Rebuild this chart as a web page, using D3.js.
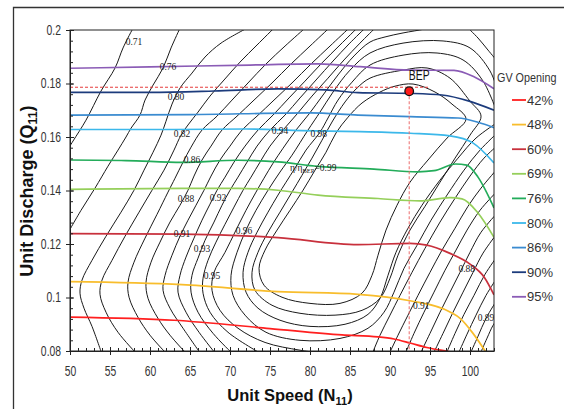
<!DOCTYPE html>
<html>
<head>
<meta charset="utf-8">
<script src="https://cdn.jsdelivr.net/npm/d3@7"></script>
<style>
  html, body { margin: 0; padding: 0; background: #fff; }
  svg { display: block; }
</style>
</head>
<body>
<svg id="chart" width="564" height="409"></svg>
<script>
// ---------- axis ticks ----------
const xTickValues = [50, 55, 60, 65, 70, 75, 80, 85, 90, 95, 100];
const yTickValues = [0.08, 0.1, 0.12, 0.14, 0.16, 0.18, 0.2];
const yTickLabels = ["0.08", "0.1", "0.12", "0.14", "0.16", "0.18", "0.2"];

// ---------- guide-vane opening lines: [N11, Q11] ----------
const gvOpenings = ["42%", "48%", "60%", "69%", "76%", "80%", "86%", "90%", "95%"];
const gv42 = [[50,.0927],[63,.0915],[75,.0884],[84,.0860],[88.5,.0853],[90.5,.0845],[92.5,.0830],[94.6,.0813],[97.3,.0798],[98,.0794]];
const gv48 = [[50,.1059],[64,.1048],[76,.1022],[86,.1012],[92.5,.0988],[97.5,.0946],[98.8,.0921],[100.4,.0865],[102,.0795]];
const gv60 = [[50,.1239],[64,.1237],[76,.1224],[86,.1198],[92.5,.1202],[94.6,.1196],[97.5,.1165],[100,.1125],[101.8,.1075],[103,.1010]];
const gv69 = [[50,.1404],[64,.1408],[71,.1408],[76,.1401],[81,.1383],[88.5,.1370],[93.7,.1361],[97.5,.1373],[99,.1369],[101,.1316],[103,.1225]];
const gv76 = [[50,.1514],[57,.1512],[64,.1505],[71,.1513],[76,.1507],[81,.1490],[88,.1480],[93.5,.1470],[95.5,.1474],[98.2,.1499],[99.6,.1495],[101,.1450],[103,.1335]];
const gv80 = [[50,.1628],[63,.1628],[72,.1630],[79,.1624],[86.25,.1620],[92.5,.1614],[97.5,.1604],[100.4,.1577],[103,.1503]];
const gv86 = [[50,.1682],[65,.1684],[80,.1690],[86,.1682],[92.5,.1676],[98.5,.1671],[101,.1655],[103,.1635]];
const gv90 = [[50,.1767],[60,.1767],[68,.1772],[76,.1780],[82,.1776],[86,.1766],[92.5,.1763],[96.5,.1757],[100,.1733],[103,.1700]];
const gv95 = [[50,.1857],[60,.1862],[72.5,.1869],[81,.1873],[86.25,.1863],[92.5,.1850],[98,.1849],[100.5,.1825],[103,.1780]];

// ---------- best efficiency point ----------
const bepPoint = [92.4, 0.1771];
const bepGuideQ = 0.1786;

// ---------- efficiency contours (eta / eta_BEP): [N11, Q11] ----------
const c071 = [[57.88,.2007],[56.63,.1933],[55.63,.1858],[53.88,.1772],[52.0,.1663],[50.38,.1585],[49.5,.1543]];
const c076 = [[63.75,.2007],[62.63,.1933],[61.63,.1858],[60.38,.1794],[59.38,.1738],[58.75,.1682],[57.63,.1633],[57.0,.1600],[56.0,.1551],[54.75,.1491],[53.13,.1409],[51.38,.1326],[49.5,.1229]];
const c080 = [[72.13,.2007],[68.88,.1951],[66.88,.1899],[65.25,.1839],[63.75,.1783],[62.75,.1723],[62.0,.1659],[61.38,.1607],[60.38,.1543],[59.25,.1476],[58.0,.1401],[56.38,.1319],[54.5,.1229],[52.75,.1139],[51.5,.1065],[51.25,.1016],[51.75,.0960],[52.75,.0892],[54.0,.0788]];
const c082 = [[75.5,.2007],[73.38,.1944],[71.25,.1880],[69.25,.1813],[67.5,.1753],[66.0,.1693],[64.75,.1645],[63.88,.1607],[63.0,.1551],[61.75,.1476],[60.25,.1401],[58.63,.1319],[56.88,.1229],[55.25,.1139],[54.0,.1065],[53.75,.1012],[54.5,.0945],[56.0,.0870],[58.38,.0788]];
const c086 = [[79.38,.2007],[76.88,.1940],[74.5,.1873],[72.25,.1802],[70.25,.1738],[68.38,.1678],[66.5,.1626],[65.13,.1562],[64.13,.1506],[63.13,.1446],[62.25,.1394],[60.88,.1311],[59.38,.1222],[58.0,.1132],[57.25,.1057],[57.38,.1001],[58.5,.0926],[60.0,.0859],[62.13,.0788]];
const c088 = [[82.38,.2007],[80.0,.1940],[77.63,.1873],[75.25,.1802],[73.0,.1738],[70.88,.1678],[69.0,.1626],[67.63,.1566],[66.5,.1514],[65.5,.1454],[64.75,.1401],[63.75,.1345],[62.5,.1282],[61.25,.1207],[60.13,.1132],[59.5,.1057],[59.75,.0997],[61.0,.0922],[62.5,.0859],[64.63,.0788]];
const c091 = [[84.88,.2007],[82.5,.1940],[80.13,.1873],[77.75,.1802],[75.5,.1738],[73.38,.1678],[71.5,.1626],[70.0,.1566],[68.75,.1514],[67.63,.1454],[66.75,.1401],[65.75,.1345],[64.75,.1289],[63.75,.1229],[62.75,.1158],[61.88,.1083],[61.63,.1027],[62.5,.0960],[64.13,.0885],[66.38,.0788]];
const c092 = [[85.88,.2007],[83.75,.1944],[81.5,.1877],[79.38,.1809],[77.38,.1746],[75.38,.1682],[73.5,.1626],[71.88,.1566],[70.5,.1506],[69.38,.1450],[68.38,.1401],[67.5,.1349],[66.5,.1289],[65.5,.1222],[64.5,.1151],[63.75,.1083],[63.5,.1020],[64.5,.0945],[66.13,.0870],[68.25,.0788]];
const c093 = [[86.88,.2007],[84.88,.1948],[82.88,.1884],[80.75,.1813],[78.75,.1746],[76.88,.1682],[75.0,.1626],[73.38,.1566],[72.13,.1506],[71.0,.1450],[70.0,.1401],[69.0,.1345],[68.0,.1282],[66.88,.1214],[66.0,.1147],[65.25,.1083],[65.13,.1020],[66.0,.0945],[67.88,.0866],[70.38,.0788]];
const c094 = [[88.13,.2007],[86.25,.1951],[84.25,.1888],[82.25,.1820],[80.25,.1753],[78.38,.1686],[76.63,.1626],[75.0,.1566],[73.75,.1506],[72.63,.1450],[71.63,.1401],[70.5,.1338],[69.38,.1274],[68.25,.1207],[67.25,.1139],[66.63,.1072],[66.63,.1016],[67.5,.0945],[69.75,.0870],[74.0,.0788]];
const c095 = [[96.25,.2019],[94.38,.2004],[91.63,.1989],[89.38,.1974],[87.5,.1955],[85.5,.1903],[83.5,.1832],[81.63,.1757],[79.88,.1686],[78.25,.1626],[76.63,.1558],[75.38,.1502],[74.25,.1446],[73.25,.1394],[72.0,.1326],[70.75,.1252],[69.38,.1169],[68.0,.1094],[67.75,.1027],[68.75,.0952],[71.0,.0885],[74.38,.0832],[78.75,.0803],[82.5,.0788]];
const c095top = [[99.5,.2015],[101.0,.1970],[102.25,.1925],[103.5,.1880]];
const c096 = [[103.5,.1768],[102.5,.1847],[100.0,.1933],[96.63,.1959],[91.63,.1951],[87.5,.1914],[85.0,.1850],[82.88,.1768],[81.25,.1693],[79.75,.1626],[77.75,.1532],[76.25,.1469],[74.75,.1401],[73.25,.1326],[72.0,.1252],[70.88,.1169],[70.13,.1083],[70.38,.1008],[71.88,.0934],[74.5,.0870],[78.75,.0840],[83.75,.0847],[87.25,.0885],[89.25,.0945],[90.5,.1020],[91.75,.1109],[93.38,.1195],[95.13,.1289],[97.13,.1383],[99.25,.1476],[101.25,.1551],[103.5,.1618]];
const c098 = [[103.5,.1682],[101.63,.1809],[99.13,.1888],[95.88,.1914],[91.63,.1906],[87.5,.1869],[85.25,.1805],[83.5,.1738],[82.25,.1671],[81.25,.1618],[79.5,.1551],[78.13,.1484],[77.0,.1431],[76.0,.1383],[74.75,.1319],[73.38,.1244],[72.25,.1169],[71.63,.1094],[72.0,.1020],[73.5,.0960],[76.25,.0915],[80.0,.0892],[84.38,.0900],[87.25,.0937],[88.75,.0997],[89.75,.1083],[90.75,.1169],[92.25,.1259],[94.0,.1345],[96.25,.1439],[98.5,.1521],[100.75,.1596],[103.5,.1656]];
const c0985 = [[87.5,.1820],[91.63,.1850],[94.63,.1858],[97.5,.1820],[100.0,.1734],[101.38,.1678],[100.0,.1607],[98.13,.1521],[96.25,.1431],[94.38,.1341],[92.5,.1252],[91.0,.1158],[90.0,.1072],[88.75,.0997],[86.5,.0952],[83.13,.0934],[78.75,.0941],[75.25,.0971],[73.13,.1027],[72.75,.1094],[73.5,.1169],[74.75,.1244],[76.25,.1319],[77.75,.1394],[79.0,.1457],[80.25,.1521],[81.5,.1588],[82.75,.1656],[84.38,.1731],[85.88,.1783]];
const c099 = [[88.75,.1768],[90.63,.1790],[92.88,.1798],[95.63,.1768],[97.75,.1723],[99.5,.1667],[97.13,.1596],[94.75,.1514],[92.5,.1431],[90.88,.1345],[89.5,.1252],[88.5,.1158],[87.75,.1083],[86.5,.1016],[83.75,.0978],[80.0,.0978],[76.5,.1001],[74.25,.1046],[73.63,.1109],[74.38,.1177],[75.88,.1252],[77.5,.1326],[79.13,.1401],[80.63,.1476],[82.0,.1543],[83.25,.1615],[84.75,.1674],[86.5,.1727]];
// right-hand branches rising from the lower boundary to the right edge
const r095 = [[87.75,.0788],[88.75,.0859],[90.0,.0934],[91.25,.1008],[92.75,.1094],[94.38,.1184],[96.25,.1282],[98.13,.1371],[100.0,.1454],[101.75,.1521],[103.5,.1570]];
const r094 = [[89.88,.0788],[91.0,.0859],[92.25,.0934],[93.5,.1008],[95.0,.1094],[96.5,.1177],[98.13,.1259],[99.75,.1341],[101.38,.1409],[103.5,.1484]];
const r093 = [[91.88,.0788],[93.0,.0866],[94.25,.0945],[95.5,.1020],[96.88,.1102],[98.25,.1177],[99.63,.1252],[101.25,.1326],[103.5,.1401]];
const r092 = [[93.75,.0788],[95.0,.0866],[96.25,.0945],[97.5,.1020],[98.75,.1094],[100.0,.1169],[101.38,.1244],[103.5,.1319]];
const r091 = [[95.38,.0788],[96.63,.0866],[97.88,.0945],[99.13,.1020],[100.38,.1094],[101.63,.1166],[103.5,.1244]];
const r089 = [[97.0,.0788],[98.13,.0866],[99.25,.0937],[100.5,.1008],[101.88,.1087],[103.5,.1158]];
const r088 = [[98.5,.0788],[99.63,.0863],[100.75,.0934],[102.0,.1008],[103.5,.1079]];
const r086 = [[100.0,.0788],[101.0,.0855],[102.0,.0922],[103.5,.0997]];
const r082 = [[101.25,.0788],[102.13,.0848],[102.88,.0896],[103.5,.0922]];

const openContours = [c071, c076, c080, c082, c086, c088, c091, c092, c093, c094, c095, c095top,
                      c096, c098, r095, r094, r093, r092, r091, r089, r088, r086, r082];
const closedContours = [c0985, c099];

// contour value labels: [N11, Q11, text]
const contourLabels = [
  [58.0, .1955, "0.71"], [62.25, .1862, "0.76"], [63.25, .1749, "0.80"], [64.0, .1611, "0.82"],
  [65.25, .1517, "0.86"], [64.5, .1368, "0.88"], [68.5, .1375, "0.92"], [64.0, .1237, "0.91"],
  [66.5, .1184, "0.93"], [67.75, .1080, "0.95"], [71.75, .1248, "0.96"], [76.25, .1622, "0.94"],
  [81.1, .1611, "0.98"], [99.6, .1106, "0.88"], [93.9, .0971, "0.91"], [102.0, .0926, "0.89"]
];
const bepLabelPos = [80.4, .1484];

// ---------- styles ----------
const gvColors = {
  "42%": "#ff1f1f", "48%": "#f8bd2c", "60%": "#c8303c", "69%": "#95cf5a", "76%": "#23ac5a",
  "80%": "#3cb8ea", "86%": "#3a8bd0", "90%": "#1c3b7c", "95%": "#8b5cb6"
};
const gvSeries = [gv42, gv48, gv60, gv69, gv76, gv80, gv86, gv90, gv95];
const sansFont = "'Liberation Sans', Arial, sans-serif";
const serifFont = "'Liberation Serif', 'DejaVu Serif', serif";
const narrow = 0.74;   // horizontal squeeze for the condensed tick lettering

const svg = d3.select("#chart");
const x = d3.scaleLinear().domain([50, 103]).range([70, 494]);
const y = d3.scaleLinear().domain([0.08, 0.2]).range([351, 30]);

// outer frame
svg.append("path")
  .attr("d", "M13.5,409 V7.5 H564")
  .attr("fill", "none").attr("stroke", "#333").attr("stroke-width", 1.3);

svg.append("defs").append("clipPath").attr("id", "plotClip")
  .append("rect").attr("x", 70).attr("y", 30).attr("width", 424).attr("height", 321);

const plot = svg.append("g").attr("clip-path", "url(#plotClip)");

const openLine = d3.line().x(d => x(d[0])).y(d => y(d[1])).curve(d3.curveCatmullRom.alpha(0.5));
const closedLine = d3.line().x(d => x(d[0])).y(d => y(d[1])).curve(d3.curveCatmullRomClosed.alpha(0.5));

// efficiency contours
plot.selectAll("path.contour-open").data(openContours).join("path")
  .attr("class", "contour-open")
  .attr("d", openLine)
  .attr("fill", "none").attr("stroke", "#1a1a1a").attr("stroke-width", 1);
plot.selectAll("path.contour-closed").data(closedContours).join("path")
  .attr("class", "contour-closed")
  .attr("d", closedLine)
  .attr("fill", "none").attr("stroke", "#1a1a1a").attr("stroke-width", 1);

// guide-vane opening curves
const gvLine = d3.line().x(d => x(d[0])).y(d => y(d[1])).curve(d3.curveMonotoneX);
plot.selectAll("path.gv").data(gvSeries).join("path")
  .attr("class", "gv")
  .attr("d", gvLine)
  .attr("fill", "none")
  .attr("stroke", (d, i) => gvColors[gvOpenings[i]])
  .attr("stroke-width", 1.7);

// BEP guide lines
plot.append("line")
  .attr("x1", x(50)).attr("x2", x(bepPoint[0]) + 19)
  .attr("y1", y(bepGuideQ)).attr("y2", y(bepGuideQ))
  .attr("stroke", "#e53b3b").attr("stroke-width", 1).attr("stroke-dasharray", "3,2");
plot.append("line")
  .attr("x1", x(bepPoint[0])).attr("x2", x(bepPoint[0]))
  .attr("y1", y(bepPoint[1])).attr("y2", y(0.08))
  .attr("stroke", "#ec6b6b").attr("stroke-width", 1).attr("stroke-dasharray", "3,2");

// contour labels
plot.selectAll("text.clabel").data(contourLabels).join("text")
  .attr("class", "clabel")
  .attr("x", d => x(d[0])).attr("y", d => y(d[1]))
  .attr("dy", "0.35em").attr("text-anchor", "middle")
  .attr("font-family", serifFont).attr("font-size", 9.5).attr("fill", "#222")
  .text(d => d[2]);

const etaLabel = plot.append("text")
  .attr("x", x(bepLabelPos[0])).attr("y", y(bepLabelPos[1]))
  .attr("dy", "0.35em").attr("text-anchor", "middle")
  .attr("font-family", serifFont).attr("font-size", 9.5).attr("fill", "#222");
etaLabel.append("tspan").text("η/η");
etaLabel.append("tspan").attr("font-size", 6.5).attr("dy", "2").text("BEP");
etaLabel.append("tspan").attr("dy", "-2").text("=0.99");

// BEP marker
svg.append("circle")
  .attr("cx", x(bepPoint[0])).attr("cy", y(bepPoint[1])).attr("r", 4.3)
  .attr("fill", "#ff1a1a").attr("stroke", "#111").attr("stroke-width", 1.3);
svg.append("text")
  .attr("transform", `translate(${x(bepPoint[0]) + 10},${y(bepPoint[1]) - 11}) scale(${narrow},1)`)
  .attr("text-anchor", "middle")
  .attr("font-family", sansFont).attr("font-size", 14).attr("fill", "#111")
  .text("BEP");

// plot border
svg.append("rect")
  .attr("x", 70).attr("y", 30).attr("width", 424).attr("height", 321)
  .attr("fill", "none").attr("stroke", "#222").attr("stroke-width", 1);

// axes: major ticks cross the frame, minor ticks point inward
const xAxisG = svg.append("g").attr("transform", "translate(0,351)")
  .call(d3.axisBottom(x).tickValues(xTickValues).tickSize(4).tickSizeOuter(0).tickPadding(11));
svg.append("g").attr("transform", "translate(0,351)")
  .call(d3.axisTop(x).tickValues(xTickValues).tickSize(4).tickFormat(""))
  .call(g => g.select(".domain").remove());
svg.append("g").attr("transform", "translate(0,351)")
  .call(d3.axisTop(x).tickValues(d3.range(50, 104, 1)).tickSize(3).tickFormat(""))
  .call(g => g.select(".domain").remove());

const yAxisG = svg.append("g").attr("transform", "translate(70,0)")
  .call(d3.axisLeft(y).tickValues(yTickValues).tickSize(4).tickSizeOuter(0).tickPadding(5)
    .tickFormat((d, i) => yTickLabels[i]));
svg.append("g").attr("transform", "translate(70,0)")
  .call(d3.axisRight(y).tickValues(yTickValues).tickSize(4).tickFormat(""))
  .call(g => g.select(".domain").remove());
svg.append("g").attr("transform", "translate(70,0)")
  .call(d3.axisRight(y).tickValues(d3.range(0.08, 0.2001, 0.004)).tickSize(3).tickFormat(""))
  .call(g => g.select(".domain").remove());

svg.selectAll(".tick line").attr("stroke", "#222");
svg.selectAll(".domain").attr("stroke", "#222");
xAxisG.selectAll("text")
  .attr("font-family", sansFont).attr("font-size", 14).attr("fill", "#333")
  .attr("transform", `scale(${narrow},1)`);
yAxisG.selectAll("text")
  .attr("font-family", sansFont).attr("font-size", 14).attr("fill", "#333")
  .attr("x", -9 / narrow)
  .attr("transform", `scale(${narrow},1)`);

// axis titles
const xTitle = svg.append("text")
  .attr("x", 290).attr("y", 401).attr("text-anchor", "middle")
  .attr("font-family", sansFont).attr("font-weight", "bold").attr("font-size", 16.5).attr("fill", "#111");
xTitle.append("tspan").text("Unit Speed (N");
xTitle.append("tspan").attr("font-size", 11).attr("dy", 4).text("11");
xTitle.append("tspan").attr("dy", -4).text(")");

const yTitle = svg.append("text")
  .attr("transform", "translate(33,191) rotate(-90)").attr("text-anchor", "middle")
  .attr("font-family", sansFont).attr("font-weight", "bold").attr("font-size", 18).attr("fill", "#111");
yTitle.append("tspan").text("Unit Discharge (Q");
yTitle.append("tspan").attr("font-size", 12.5).attr("dy", 4).text("11");
yTitle.append("tspan").attr("dy", -4).text(")");

// legend
svg.append("text")
  .attr("transform", "translate(497,77) scale(0.8,1)")
  .attr("dy", "0.35em")
  .attr("font-family", sansFont).attr("font-size", 13.5).attr("fill", "#333")
  .text("GV Opening");
const legend = svg.append("g");
const item = legend.selectAll("g").data(gvOpenings).join("g")
  .attr("transform", (d, i) => `translate(0,${100 + i * 24.6})`);
item.append("line")
  .attr("x1", 512).attr("x2", 526).attr("y1", 0).attr("y2", 0)
  .attr("stroke", d => gvColors[d]).attr("stroke-width", 1.8);
item.append("text")
  .attr("x", 527).attr("dy", "0.35em")
  .attr("font-family", sansFont).attr("font-size", 13).attr("fill", "#333")
  .text(d => d);
</script>
</body>
</html>
